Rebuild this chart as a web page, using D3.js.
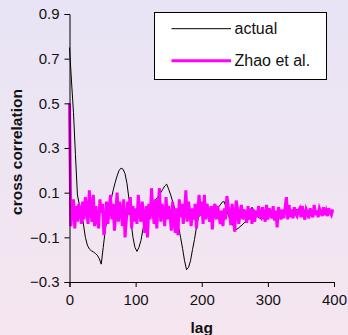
<!DOCTYPE html>
<html>
<head>
<meta charset="utf-8">
<script src="https://cdn.jsdelivr.net/npm/d3@7/dist/d3.min.js"></script>
<style>
  html, body { margin: 0; padding: 0; }
  svg { display: block; font-family: "Liberation Sans", Arial, sans-serif; }
</style>
</head>
<body>
<svg id="chart" width="348" height="335"></svg>
<script>
// Lag sampling steps for each series
const actualStep = 3;
const zhaoStep = 2;

// Measured cross correlation ("actual"), one value every 3 lags
const actualValues = [
  0.75, 0.60, 0.46, 0.27, 0.09, 0.045, 0.025, -0.04, -0.10, -0.135,
  -0.152, -0.16, -0.165, -0.172, -0.18, -0.195, -0.22, -0.145, -0.07, -0.01,
  0.03, 0.07, 0.11, 0.145, 0.175, 0.20, 0.21, 0.205, 0.185, 0.14,
  0.07, -0.03, -0.10, -0.145, -0.163, -0.145, -0.115, -0.065, -0.02, 0.02,
  0.035, 0.045, 0.055, 0.065, 0.075, 0.085, 0.10, 0.115, 0.13, 0.138,
  0.115, 0.09, 0.06, 0.03, -0.01, -0.055, -0.10, -0.15, -0.205, -0.245,
  -0.235, -0.205, -0.155, -0.11, -0.055, -0.01, 0.0, 0.005, 0.01, 0.012,
  0.018, 0.02, 0.025, 0.03, 0.04, 0.035, 0.045, 0.058, 0.06, 0.03,
  0.0, -0.02, -0.04, -0.055, -0.065, -0.06, -0.052, -0.045, -0.035, -0.03,
  -0.02, 0.0, 0.035, 0.02, 0.0, -0.01, -0.015, -0.02, -0.01, -0.005,
  0.0, 0.005, 0.01, 0.012, 0.015, 0.015, 0.018, 0.02, 0.02, 0.022,
  0.02, 0.018, 0.02, 0.022, 0.025, 0.022, 0.02, 0.022, 0.022, 0.02,
  0.018, 0.02, 0.015, 0.012, 0.01, 0.01, 0.012, 0.015, 0.012, 0.01,
  0.012, 0.015, 0.012, 0.01
];

// Model cross correlation ("Zhao et al."), one value every 2 lags
const zhaoValues = [
  0.50, -0.05, 0.02, 0.07, -0.06, 0.04, -0.03, 0.05, 0.01, -0.04,
  0.06, -0.02, 0.08, 0.03, -0.04, 0.11, 0.02, -0.03, 0.09, -0.05,
  0.04, -0.02, -0.06, 0.07, 0.01, 0.05, -0.09, -0.03, 0.06, -0.04,
  0.03, 0.09, -0.02, 0.05, -0.07, 0.01, 0.10, -0.03, 0.06, 0.02,
  -0.05, 0.07, -0.10, -0.02, 0.06, 0.0, 0.08, -0.06, 0.04, -0.03,
  0.03, -0.04, 0.09, 0.01, -0.03, 0.06, -0.01, -0.08, 0.04, -0.10,
  0.05, -0.02, 0.12, 0.02, -0.04, 0.07, -0.06, 0.04, 0.12, -0.03,
  0.05, 0.01, -0.05, 0.08, -0.02, 0.04, 0.0, -0.07, 0.06, -0.03,
  -0.08, 0.03, -0.09, 0.07, -0.01, 0.05, -0.04, 0.02, 0.11, -0.03,
  0.06, 0.01, -0.05, 0.03, -0.02, 0.05, -0.06, 0.02, 0.09, 0.0,
  0.06, -0.04, 0.09, -0.02, 0.05, 0.01, -0.03, 0.04, -0.065, 0.03,
  0.05, -0.02, 0.04, 0.0, -0.04, 0.02, -0.05, 0.03, -0.02, 0.085,
  0.04, 0.01, -0.045, 0.05, -0.01, -0.075, 0.065, 0.03, -0.04, 0.01,
  0.045, -0.02, 0.025, 0.0, -0.035, 0.04, -0.02, 0.03, -0.04, 0.025,
  -0.03, 0.02, -0.01, 0.04, 0.0, -0.01, 0.035, 0.0, -0.03, 0.045,
  -0.02, 0.03, 0.005, -0.015, 0.04, -0.025, 0.02, -0.055, 0.035, 0.01,
  -0.02, 0.025, -0.015, 0.03, 0.08, -0.02, 0.045, -0.01, 0.025, -0.015,
  0.035, 0.005, -0.005, 0.02, 0.03, -0.01, 0.04, 0.0, -0.02, 0.025,
  0.01, -0.015, 0.03, 0.005, -0.01, 0.045, 0.0, 0.02, -0.01, 0.03,
  0.015, -0.005, 0.035, 0.0, 0.02, -0.005, 0.03, 0.01, 0.0, 0.025
];

const xTicks = [0, 100, 200, 300, 400];
const yTicks = [-0.3, -0.1, 0.1, 0.3, 0.5, 0.7, 0.9];

const seriesNames = ["actual", "Zhao et al."];
const seriesColors = ["#000000", "#ff00ff"];
const seriesWidths = [1, 3];

const svg = d3.select("#chart");
const W = 348, H = 335;

// Soft lavender-to-pink page background
const defs = svg.append("defs");
const grad = defs.append("linearGradient")
  .attr("id", "bg").attr("x1", 0).attr("y1", 0).attr("x2", 0).attr("y2", 1);
grad.append("stop").attr("offset", "0%").attr("stop-color", "#e8e4f5");
grad.append("stop").attr("offset", "100%").attr("stop-color", "#f5e6f0");
svg.append("rect").attr("width", W).attr("height", H).attr("fill", "url(#bg)");

const x = d3.scaleLinear().domain([0, 400]).range([69.5, 334]);
const y = d3.scaleLinear().domain([-0.3, 0.9]).range([282, 14]);

const toPoints = (vals, step) => vals.map((v, i) => ({ lag: i * step, v }));
const line = d3.line().x(d => x(d.lag)).y(d => y(d.v));

// Series lines: actual underneath, model drawn on top
[[actualValues, actualStep], [zhaoValues, zhaoStep]].forEach(([vals, step], k) => {
  svg.append("path")
    .datum(toPoints(vals, step))
    .attr("fill", "none")
    .attr("stroke", seriesColors[k])
    .attr("stroke-width", seriesWidths[k])
    .attr("stroke-linejoin", "miter")
    .attr("d", line);
});

// Axes
const yAxis = svg.append("g")
  .attr("transform", `translate(${x(0)},0)`)
  .call(d3.axisLeft(y).tickValues(yTicks).tickSize(5).tickPadding(5)
    .tickFormat(d3.format(".1f")));
const xAxis = svg.append("g")
  .attr("transform", `translate(0,${y(-0.3)})`)
  .call(d3.axisBottom(x).tickValues(xTicks).tickSize(5).tickPadding(7));

[xAxis, yAxis].forEach(g => {
  g.select(".domain").attr("stroke", "#000").attr("stroke-width", 1);
  g.selectAll(".tick line").attr("stroke", "#000");
  g.selectAll(".tick text")
    .attr("fill", "#111")
    .style("font-size", "15px")
    .style("font-family", "'Liberation Sans', Arial, sans-serif");
});

// Axis titles
svg.append("text")
  .attr("x", x(200)).attr("y", 332.5)
  .attr("text-anchor", "middle")
  .style("font-size", "15.5px").style("font-weight", "bold")
  .attr("fill", "#111")
  .text("lag");
svg.append("text")
  .attr("transform", `translate(21.5,${(y(-0.3) + y(0.9)) / 2 + 4}) rotate(-90)`)
  .attr("text-anchor", "middle")
  .style("font-size", "15.5px").style("font-weight", "bold")
  .attr("fill", "#111")
  .text("cross correlation");

// Legend
const legend = svg.append("g");
legend.append("rect")
  .attr("x", 154.5).attr("y", 12.5).attr("width", 172).attr("height", 67)
  .attr("fill", "#fff").attr("stroke", "#000").attr("stroke-width", 1);
const legendY = [28.7, 60.7];
seriesNames.forEach((name, k) => {
  legend.append("line")
    .attr("x1", 171.5).attr("x2", 231)
    .attr("y1", legendY[k]).attr("y2", legendY[k])
    .attr("stroke", seriesColors[k]).attr("stroke-width", seriesWidths[k]);
  legend.append("text")
    .attr("x", 234.5).attr("y", legendY[k])
    .attr("dy", "0.35em")
    .style("font-size", "16px")
    .attr("fill", "#111")
    .text(name);
});
</script>
</body>
</html>
